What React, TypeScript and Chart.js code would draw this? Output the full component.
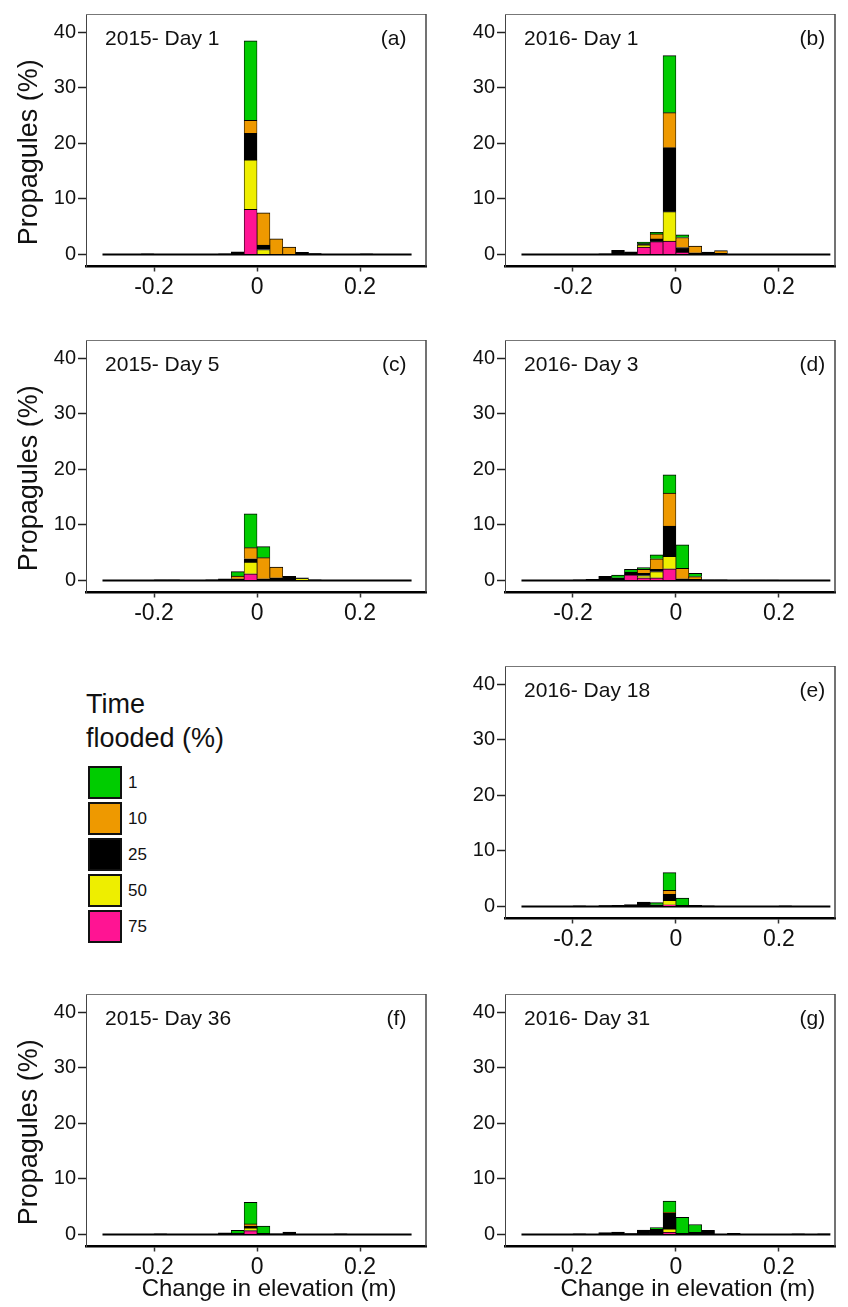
import React, { useEffect, useRef } from "react";
import { Chart, registerables } from "chart.js";

Chart.register(...registerables);

// ---------- data ----------
const BIN_CENTERS = [
  -0.2875, -0.2625, -0.2375, -0.2125, -0.1875, -0.1625, -0.1375, -0.1125,
  -0.0875, -0.0625, -0.0375, -0.0125, 0.0125, 0.0375, 0.0625, 0.0875,
  0.1125, 0.1375, 0.1625, 0.1875, 0.2125, 0.2375, 0.2625, 0.2875,
];
const BASELINE_X = [-0.3, 0.3];
const X_TICKS = [-0.2, 0, 0.2];
const Y_TICKS = [0, 10, 20, 30, 40];

// stacking order, bottom to top
const SERIES_NAMES = ["75", "50", "25", "10", "1"];
const SERIES_COLORS = ["#ff1493", "#eeee00", "#000000", "#ee9900", "#00cc00"];
// legend order, top to bottom
const LEGEND_NAMES = ["1", "10", "25", "50", "75"];
const LEGEND_COLORS = ["#00cc00", "#ee9900", "#000000", "#eeee00", "#ff1493"];

const A_PINK   = [0,0,0,0,0,0,0,0,0,0,0,8.1,0,0,0,0,0,0,0,0,0,0,0,0];
const A_YELLOW = [0,0,0,0,0,0,0,0,0,0,0,8.9,0.9,0,0,0,0,0,0,0,0,0,0,0];
const A_BLACK  = [0,0,0,0.1,0,0,0,0,0,0.1,0.5,4.8,0.8,0,0,0.4,0.15,0,0,0,0.1,0,0,0];
const A_ORANGE = [0,0,0,0,0,0,0,0,0,0,0,2.3,5.8,2.8,1.35,0,0,0,0,0,0,0,0,0];
const A_GREEN  = [0,0,0,0,0,0,0,0,0,0,0,14.3,0,0,0,0,0,0,0,0,0,0,0,0];

const B_PINK   = [0,0,0,0,0,0,0,0,0,1.35,2.3,2.4,0.45,0,0,0,0,0,0,0,0,0,0,0];
const B_YELLOW = [0,0,0,0,0,0,0,0,0,0.4,0,5.3,0,0,0,0,0,0,0,0,0,0,0,0];
const B_BLACK  = [0,0,0,0,0,0,0.1,0.75,0.5,0.2,0.5,11.5,0.8,0.3,0.45,0.2,0,0,0,0,0,0,0,0];
const B_ORANGE = [0,0,0,0,0,0,0,0,0,0,0.9,6.3,1.8,1.2,0,0.5,0,0,0,0,0,0,0,0];
const B_GREEN  = [0,0,0,0,0,0,0,0,0,0.3,0.3,10.25,0.5,0,0,0,0,0,0,0,0,0,0,0];

const C_PINK   = [0,0,0,0,0,0,0,0,0,0,0,1.2,0,0,0,0,0,0,0,0,0,0,0,0];
const C_YELLOW = [0,0,0,0,0,0,0,0,0,0,0,2.1,0,0,0,0.3,0,0,0,0,0,0,0,0];
const C_BLACK  = [0,0,0,0,0.1,0.1,0,0,0.1,0.3,0.3,0.6,0.3,0.5,0.75,0.2,0.1,0,0,0,0,0,0,0];
const C_ORANGE = [0,0,0,0,0,0,0,0,0,0,0.5,2.0,3.8,1.9,0,0,0,0,0,0,0,0,0,0];
const C_GREEN  = [0,0,0,0,0,0,0,0,0,0,0.8,6.1,2.0,0,0,0,0,0,0,0,0,0,0,0];

const D_PINK   = [0,0,0,0,0,0,0,0,1.0,0.5,0.5,2.1,0,0,0,0,0,0,0,0,0,0,0,0];
const D_YELLOW = [0,0,0,0,0,0,0,0,0,0.4,1.1,2.25,0,0,0,0,0,0,0,0,0,0,0,0];
const D_BLACK  = [0,0,0,0,0.1,0.2,0.75,0.5,0.5,0.4,0.4,5.45,0.3,0.2,0.1,0.1,0,0.05,0.05,0.05,0,0,0,0];
const D_ORANGE = [0,0,0,0,0,0,0,0,0,0.7,1.9,5.9,1.9,0.5,0,0,0,0,0,0,0,0,0,0];
const D_GREEN  = [0,0,0,0,0,0,0,0.45,0.5,0.3,0.7,3.3,4.2,0.6,0,0,0,0,0,0,0,0,0,0];

const E_PINK   = [0,0,0,0,0,0,0,0,0,0,0,0.3,0,0,0,0,0,0,0,0,0,0,0,0];
const E_YELLOW = [0,0,0,0,0,0,0,0,0,0,0,0.8,0,0,0,0,0,0,0,0,0,0,0,0];
const E_BLACK  = [0,0,0,0,0.1,0,0.15,0.2,0.35,0.8,0.3,1.1,0.2,0.2,0.1,0,0,0,0,0,0.1,0,0,0];
const E_ORANGE = [0,0,0,0,0,0,0,0,0,0,0,0.7,0,0,0,0,0,0,0,0,0,0,0,0];
const E_GREEN  = [0,0,0,0,0,0,0,0,0,0,0.4,3.2,1.3,0,0,0,0,0,0,0,0,0,0,0];

const F_PINK   = [0,0,0,0,0,0,0,0,0,0,0,0.7,0,0,0,0,0,0,0,0,0,0,0,0];
const F_YELLOW = [0,0,0,0,0,0,0,0,0,0,0,0.5,0,0,0,0,0,0,0,0,0,0,0,0];
const F_BLACK  = [0,0,0,0,0.1,0,0,0,0,0.3,0.25,0.3,0.2,0.1,0.45,0,0,0,0.1,0,0,0,0,0];
const F_ORANGE = [0,0,0,0,0,0,0,0,0,0,0,0.4,0,0,0,0,0,0,0,0,0,0,0,0];
const F_GREEN  = [0,0,0,0,0,0,0,0,0,0,0.5,3.9,1.3,0,0,0,0,0,0,0,0,0,0,0];

const G_PINK   = [0,0,0,0,0,0,0,0,0,0,0,0.4,0,0,0,0,0,0,0,0,0,0,0,0];
const G_YELLOW = [0,0,0,0,0,0,0,0,0,0,0,0.6,0,0,0,0,0,0,0,0,0,0,0,0];
const G_BLACK  = [0,0,0,0,0.1,0,0.35,0.45,0.15,0.8,0.95,2.8,0.2,0.4,0.75,0,0.2,0,0,0,0,0.1,0,0.1];
const G_ORANGE = [0,0,0,0,0,0,0,0,0,0,0,0.2,0,0,0,0,0,0,0,0,0,0,0,0];
const G_GREEN  = [0,0,0,0,0,0,0,0,0,0,0.3,2.0,2.9,1.4,0,0,0,0,0,0,0,0,0,0];

const PANEL_TITLES = ["2015- Day 1", "2016- Day 1", "2015- Day 5", "2016- Day 3", "2016- Day 18", "2015- Day 36", "2016- Day 31"];
const PANEL_LETTERS = ["(a)", "(b)", "(c)", "(d)", "(e)", "(f)", "(g)"];
const Y_TITLE = "Propagules (%)";
const X_TITLE = "Change in elevation (m)";
const LEGEND_TITLE = ["Time", "flooded (%)"];

// ---------- styling / layout ----------
const FONT = '"Liberation Sans", Arial, Helvetica, sans-serif';
const Y_MIN = -2.16;
const Y_MAX = 43.24;
const X_MIN = -0.332;
const TITLE_X = -0.295;
const LETTER_X = 0.29;
const BOX_H = 256.5;
const PAD_TOP = 10;

const COLS = [
  { left: 0, width: 430, yAxisWidth: 86, padRight: 4, xMax: 0.328 },
  { left: 430, width: 418, yAxisWidth: 75, padRight: 13, xMax: 0.309 },
];

type PanelCfg = {
  series: number[][];
  title: string;
  letter: string;
  col: number;
  top: number;
  height: number;
  yTitle: boolean;
  xTitle: boolean;
};

const PANELS: PanelCfg[] = [
  { series: [A_PINK, A_YELLOW, A_BLACK, A_ORANGE, A_GREEN], title: PANEL_TITLES[0], letter: PANEL_LETTERS[0], col: 0, top: 0, height: 320, yTitle: true, xTitle: false },
  { series: [B_PINK, B_YELLOW, B_BLACK, B_ORANGE, B_GREEN], title: PANEL_TITLES[1], letter: PANEL_LETTERS[1], col: 1, top: 0, height: 320, yTitle: false, xTitle: false },
  { series: [C_PINK, C_YELLOW, C_BLACK, C_ORANGE, C_GREEN], title: PANEL_TITLES[2], letter: PANEL_LETTERS[2], col: 0, top: 326, height: 320, yTitle: true, xTitle: false },
  { series: [D_PINK, D_YELLOW, D_BLACK, D_ORANGE, D_GREEN], title: PANEL_TITLES[3], letter: PANEL_LETTERS[3], col: 1, top: 326, height: 320, yTitle: false, xTitle: false },
  { series: [E_PINK, E_YELLOW, E_BLACK, E_ORANGE, E_GREEN], title: PANEL_TITLES[4], letter: PANEL_LETTERS[4], col: 1, top: 652, height: 320, yTitle: false, xTitle: false },
  { series: [F_PINK, F_YELLOW, F_BLACK, F_ORANGE, F_GREEN], title: PANEL_TITLES[5], letter: PANEL_LETTERS[5], col: 0, top: 980, height: 325, yTitle: true, xTitle: true },
  { series: [G_PINK, G_YELLOW, G_BLACK, G_ORANGE, G_GREEN], title: PANEL_TITLES[6], letter: PANEL_LETTERS[6], col: 1, top: 980, height: 325, yTitle: false, xTitle: true },
];

const decorPlugin = {
  id: "decor",
  afterDraw(chart: any, _args: any, opts: any) {
    const { ctx, chartArea: ca, scales } = chart;
    ctx.save();
    // top border
    ctx.strokeStyle = "#777";
    ctx.lineWidth = 1;
    ctx.beginPath();
    ctx.moveTo(ca.left, ca.top + 0.5);
    ctx.lineTo(ca.right, ca.top + 0.5);
    ctx.stroke();
    // right border
    ctx.strokeStyle = "#444";
    ctx.lineWidth = 1.5;
    ctx.beginPath();
    ctx.moveTo(ca.right, ca.top);
    ctx.lineTo(ca.right, ca.bottom);
    ctx.stroke();

    ctx.fillStyle = "#111";
    ctx.font = `21px ${FONT}`;
    ctx.textBaseline = "middle";
    const ty = ca.top + 25;
    ctx.textAlign = "left";
    ctx.fillText(opts.title, scales.x.getPixelForValue(TITLE_X), ty);
    ctx.textAlign = "right";
    ctx.fillText(opts.letter, scales.x.getPixelForValue(LETTER_X), ty);

    if (opts.yTitle) {
      ctx.save();
      ctx.translate(37, (ca.top + ca.bottom) / 2 + 12);
      ctx.rotate(-Math.PI / 2);
      ctx.textAlign = "center";
      ctx.textBaseline = "alphabetic";
      ctx.font = `27px ${FONT}`;
      ctx.fillText(Y_TITLE, 0, 0);
      ctx.restore();
    }
    if (opts.xTitle) {
      ctx.textAlign = "center";
      ctx.textBaseline = "alphabetic";
      ctx.font = `24px ${FONT}`;
      ctx.fillText(X_TITLE, scales.x.getPixelForValue(0) + 12, ca.bottom + 49);
    }
    ctx.restore();
  },
};

function Panel({ cfg }: { cfg: PanelCfg }) {
  const ref = useRef<HTMLCanvasElement>(null);
  const col = COLS[cfg.col];
  useEffect(() => {
    const xAxisHeight = cfg.height - PAD_TOP - BOX_H;
    const datasets: any[] = cfg.series.map((arr, k) => ({
      type: "bar",
      label: SERIES_NAMES[k],
      data: BIN_CENTERS.map((x, i) => ({ x, y: arr[i] > 0 ? arr[i] : null })),
      backgroundColor: SERIES_COLORS[k],
      borderColor: "#000",
      borderWidth: { top: 1, left: 0.7, right: 0.7, bottom: 0 },
      borderSkipped: false,
      barPercentage: 1,
      categoryPercentage: 1,
      order: 0,
    }));
    datasets.push({
      type: "line",
      label: "baseline",
      data: BASELINE_X.map((x) => ({ x, y: 0 })),
      borderColor: "#000",
      borderWidth: 2,
      pointRadius: 0,
      order: 1,
      stack: "baseline",
    });
    const chart = new Chart(ref.current!, {
      type: "bar",
      data: { datasets },
      plugins: [decorPlugin],
      options: {
        responsive: false,
        animation: false,
        devicePixelRatio: 1,
        layout: { padding: { top: PAD_TOP, right: col.padRight, left: 0, bottom: 0 } },
        plugins: {
          legend: { display: false },
          tooltip: { enabled: false },
          decor: { title: cfg.title, letter: cfg.letter, yTitle: cfg.yTitle, xTitle: cfg.xTitle },
        } as any,
        scales: {
          x: {
            type: "linear",
            min: X_MIN,
            max: col.xMax,
            offset: false,
            stacked: true,
            afterBuildTicks: (s: any) => {
              s.ticks = X_TICKS.map((v) => ({ value: v }));
            },
            afterFit: (s: any) => {
              s.height = xAxisHeight;
            },
            ticks: {
              autoSkip: false,
              maxRotation: 0,
              padding: 2,
              color: "#111",
              font: { size: 23, family: FONT },
              callback: (v: any) => (v === 0 ? "0" : String(v)),
            },
            grid: { drawOnChartArea: false, drawTicks: true, tickLength: 5, tickColor: "#333", tickWidth: 1.5, offset: false },
            border: { display: true, color: "#000", width: 2.5 },
          },
          y: {
            type: "linear",
            min: Y_MIN,
            max: Y_MAX,
            stacked: true,
            afterBuildTicks: (s: any) => {
              s.ticks = Y_TICKS.map((v) => ({ value: v }));
            },
            afterFit: (s: any) => {
              s.width = col.yAxisWidth;
            },
            ticks: {
              padding: 2,
              color: "#111",
              font: { size: 20, family: FONT },
              callback: (v: any) => String(v),
            },
            grid: { drawOnChartArea: false, drawTicks: true, tickLength: 8, tickColor: "#222", tickWidth: 1.5 },
            border: { display: true, color: "#444", width: 1 },
          },
        },
      } as any,
    });
    return () => chart.destroy();
  }, []);
  return (
    <canvas
      ref={ref}
      width={col.width}
      height={cfg.height}
      style={{ position: "absolute", left: col.left, top: cfg.top, width: col.width, height: cfg.height }}
    />
  );
}

function Legend() {
  return (
    <div style={{ position: "absolute", left: 0, top: 0 }}>
      <div
        style={{
          position: "absolute",
          left: 86,
          top: 687,
          fontSize: 27,
          lineHeight: "34px",
          whiteSpace: "nowrap",
          color: "#111",
        }}
      >
        {LEGEND_TITLE[0]}
        <br />
        {LEGEND_TITLE[1]}
      </div>
      {LEGEND_NAMES.map((name, i) => (
        <div key={name}>
          <div
            style={{
              position: "absolute",
              left: 88,
              top: 765.5 + i * 36,
              width: 34,
              height: 33,
              boxSizing: "border-box",
              border: "2px solid #111",
              background: LEGEND_COLORS[i],
            }}
          />
          <div
            style={{
              position: "absolute",
              left: 128,
              top: 765.5 + i * 36,
              height: 33,
              lineHeight: "33px",
              fontSize: 17,
              color: "#111",
            }}
          >
            {name}
          </div>
        </div>
      ))}
    </div>
  );
}

export default function App() {
  return (
    <div
      style={{
        position: "absolute",
        left: 0,
        top: 0,
        width: 848,
        height: 1307,
        background: "#fff",
        fontFamily: FONT,
        overflow: "hidden",
      }}
    >
      {PANELS.map((p, i) => (
        <Panel key={i} cfg={p} />
      ))}
      <Legend />
    </div>
  );
}
